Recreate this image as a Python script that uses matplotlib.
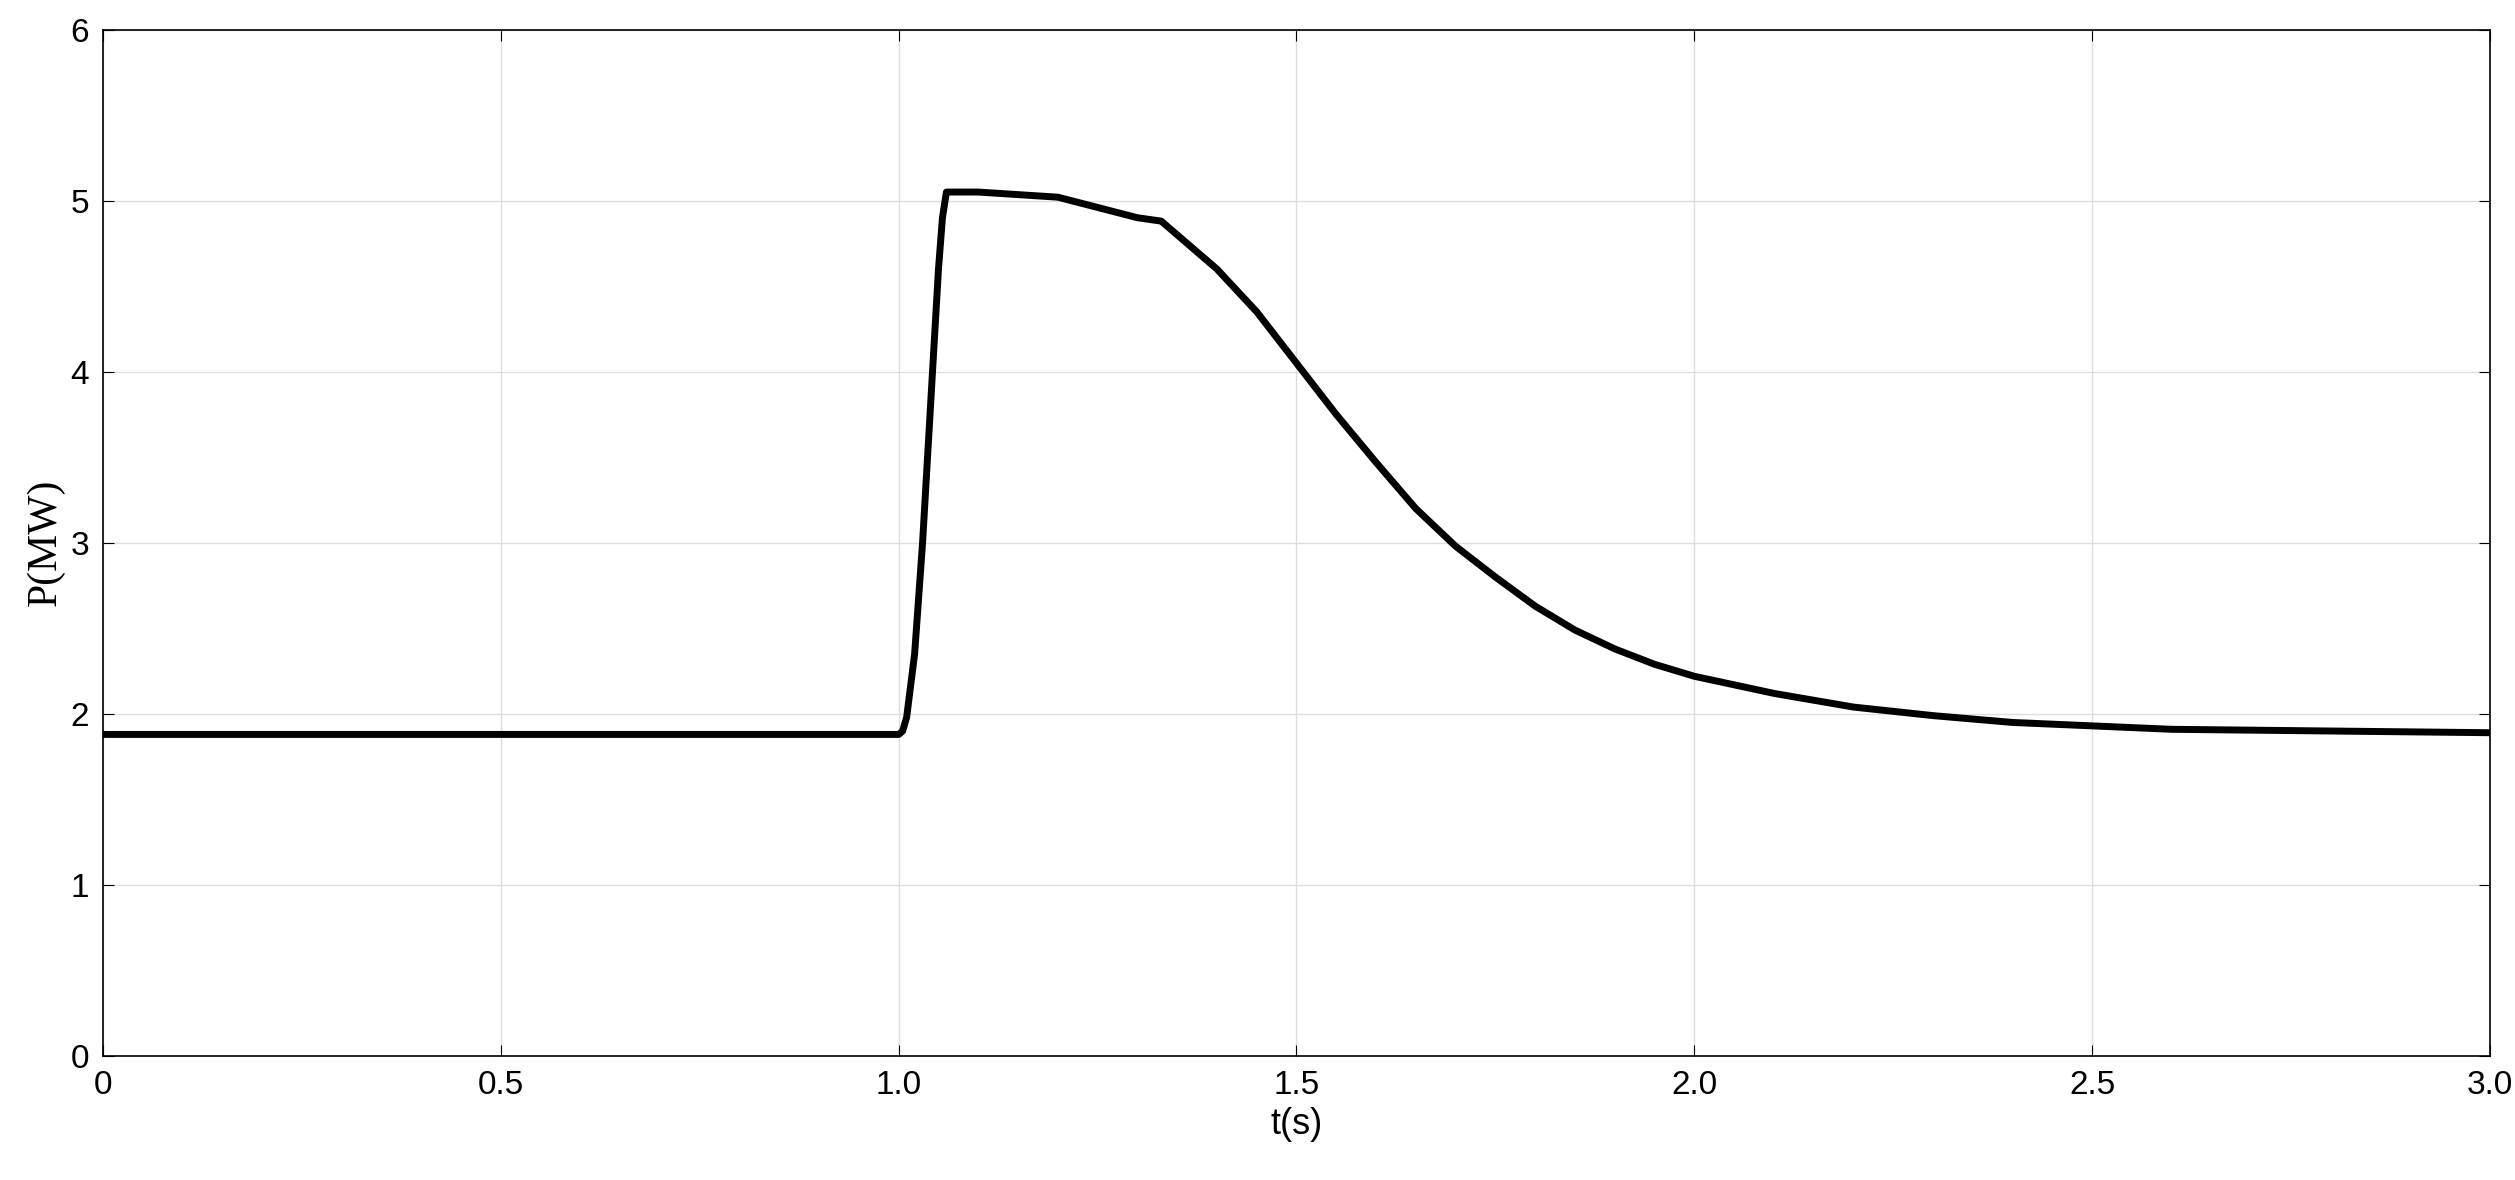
import matplotlib
matplotlib.use("Agg")
import matplotlib.pyplot as plt

t = [0, 0.5, 1.0, 1.005, 1.01, 1.02, 1.03, 1.04, 1.05, 1.055, 1.06, 1.1, 1.2, 1.25, 1.3, 1.33, 1.35, 1.4, 1.45,
     1.5, 1.55, 1.6, 1.65, 1.7, 1.75, 1.8, 1.85, 1.9, 1.95, 2.0, 2.1, 2.2, 2.3, 2.4, 2.5, 2.6, 2.8, 3.0]
P = [1.88, 1.88, 1.88, 1.9, 1.98, 2.35, 3.0, 3.8, 4.6, 4.9, 5.05, 5.05, 5.02, 4.96, 4.9, 4.88, 4.8, 4.6, 4.35,
     4.05, 3.75, 3.47, 3.2, 2.98, 2.8, 2.63, 2.49, 2.38, 2.29, 2.22, 2.12, 2.04, 1.99, 1.95, 1.93, 1.91, 1.9, 1.89]
xticks = [0, 0.5, 1.0, 1.5, 2.0, 2.5, 3.0]
xticklabels = ["0", "0.5", "1.0", "1.5", "2.0", "2.5", "3.0"]
yticks = [0, 1, 2, 3, 4, 5, 6]

fig = plt.figure(figsize=(25.15, 11.8), dpi=100)
ax = fig.add_axes([0.041, 0.105, 0.949, 0.87])
ax.plot(t, P, color="black", linewidth=5)
ax.set_xlim(0, 3)
ax.set_ylim(0, 6)
ax.set_xticks(xticks)
ax.set_xticklabels(xticklabels)
ax.set_yticks(yticks)
ax.grid(True, color="#dddddd", linewidth=1)
ax.tick_params(labelsize=24, direction="in", length=8, top=True, right=True, pad=10)
for lab in ax.get_xticklabels() + ax.get_yticklabels():
    lab.set_family("Liberation Sans")
for s in ax.spines.values():
    s.set_linewidth(1.2)
ax.set_xlabel("t(s)", fontsize=26, family="Liberation Sans", labelpad=4)
ax.set_ylabel("P(MW)", fontsize=30, family="Liberation Serif")
fig.savefig("out.png")
